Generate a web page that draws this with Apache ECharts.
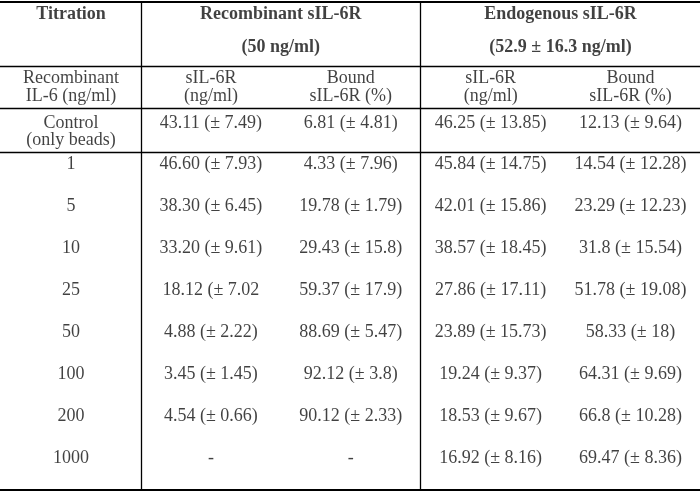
<!DOCTYPE html>
<html>
<head>
<meta charset="utf-8">
<script src="https://cdn.jsdelivr.net/npm/echarts@6/dist/echarts.min.js"></script>
<style>
html,body{margin:0;padding:0;background:#fff;}
#chart{width:700px;height:492px;}
</style>
</head>
<body>
<div id="chart"></div>
<script>
// ---- Table content ----
const groupHeaders = ['Recombinant sIL-6R', 'Endogenous sIL-6R'];
const groupConcentrations = ['(50 ng/ml)', '(52.9 ± 16.3 ng/ml)'];
const firstHeader = 'Titration';
const subHeaders = ['Recombinant\nIL-6 (ng/ml)', 'sIL-6R\n(ng/ml)', 'Bound\nsIL-6R (%)', 'sIL-6R\n(ng/ml)', 'Bound\nsIL-6R (%)'];
const controlLabel = 'Control\n(only beads)';
const controlValues = ['43.11 (± 7.49)', '6.81 (± 4.81)', '46.25 (± 13.85)', '12.13 (± 9.64)'];
const titrations = ['1', '5', '10', '25', '50', '100', '200', '1000'];
const recSIL6R = ['46.60 (± 7.93)', '38.30 (± 6.45)', '33.20 (± 9.61)', '18.12 (± 7.02', '4.88 (± 2.22)', '3.45 (± 1.45)', '4.54 (± 0.66)', '-'];
const recBound = ['4.33 (± 7.96)', '19.78 (± 1.79)', '29.43 (± 15.8)', '59.37 (± 17.9)', '88.69 (± 5.47)', '92.12 (± 3.8)', '90.12 (± 2.33)', '-'];
const endoSIL6R = ['45.84 (± 14.75)', '42.01 (± 15.86)', '38.57 (± 18.45)', '27.86 (± 17.11)', '23.89 (± 15.73)', '19.24 (± 9.37)', '18.53 (± 9.67)', '16.92 (± 8.16)'];
const endoBound = ['14.54 (± 12.28)', '23.29 (± 12.23)', '31.8 (± 15.54)', '51.78 (± 19.08)', '58.33 (± 18)', '64.31 (± 9.69)', '66.8 (± 10.28)', '69.47 (± 8.36)'];

// ---- Layout (row geometry in axis units) ----
const L = {
  top: 1.5, headerLine1: 14, headerLine2: 47, headerBottom: 66,
  subMid: 87.25, subBottom: 108.5,
  ctrlLine1: 123, ctrlMid: 131.75, ctrlBottom: 152,
  dataFirst: 164.5, dataStep: 42, bottom: 490
};

const boldCells = [];
const textCells = [];
boldCells.push({ name: firstHeader, value: [0, L.headerLine1] });
groupHeaders.forEach((g, i) => {
  const x = 1.5 + 2 * i;
  boldCells.push({ name: g, value: [x, L.headerLine1] });
  boldCells.push({ name: groupConcentrations[i], value: [x, L.headerLine2] });
});
subHeaders.forEach((s, c) => textCells.push({ name: s, value: [c, L.subMid] }));
textCells.push({ name: controlLabel, value: [0, L.ctrlMid] });
controlValues.forEach((v, i) => textCells.push({ name: v, value: [i + 1, L.ctrlLine1] }));
const dataCols = [titrations, recSIL6R, recBound, endoSIL6R, endoBound];
titrations.forEach((t, r) => {
  const y = L.dataFirst + L.dataStep * r;
  dataCols.forEach((col, c) => textCells.push({ name: col[r], value: [c, y] }));
});

const font = 'Liberation Serif, Times New Roman, serif';
const ink = '#111';
function hLine(y, w) { return { yAxis: y, lineStyle: { width: w } }; }
function vLine(x) { return [{ coord: [x, L.top] }, { coord: [x, L.bottom] }]; }

const chart = echarts.init(document.getElementById('chart'), null, { renderer: 'canvas' });
chart.setOption({
  animation: false,
  backgroundColor: '#fff',
  grid: { left: 0, top: 0, width: 700, height: 492 },
  xAxis: { type: 'value', min: -0.508, max: 4.497, show: false },
  yAxis: { type: 'value', min: 0, max: 492, inverse: true, show: false },
  series: [
    {
      type: 'scatter', symbolSize: 0, data: textCells, silent: true,
      label: {
        show: true, position: 'inside', formatter: p => p.name,
        fontFamily: font, fontSize: 18, color: ink, lineHeight: 17.5,
        align: 'center', verticalAlign: 'middle'
      },
      markLine: {
        silent: true, symbol: 'none', label: { show: false },
        lineStyle: { color: '#000', type: 'solid', width: 1.3 },
        data: [
          hLine(L.top, 2), hLine(L.headerBottom, 1.3), hLine(L.subBottom, 1.3),
          hLine(L.ctrlBottom, 1.3), hLine(L.bottom, 2.2),
          vLine(0.5), vLine(2.5)
        ]
      }
    },
    {
      type: 'scatter', symbolSize: 0, data: boldCells, silent: true,
      label: {
        show: true, position: 'inside', formatter: p => p.name,
        fontFamily: font, fontSize: 18, fontWeight: 'bold', color: ink,
        align: 'center', verticalAlign: 'middle'
      }
    }
  ]
});
</script>
</body>
</html>
